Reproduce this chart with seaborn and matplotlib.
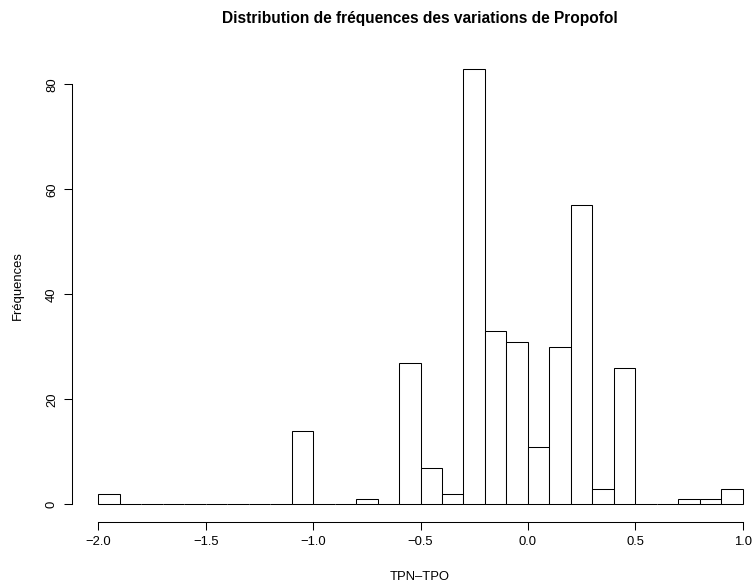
import numpy as np
import pandas as pd
import matplotlib
matplotlib.use("Agg")
import matplotlib.pyplot as plt
import seaborn as sns

# Data (bin width 0.1, from -2.0 to 1.0)
bin_left = [-2.0, -1.9, -1.8, -1.7, -1.6, -1.5, -1.4, -1.3, -1.2, -1.1,
            -1.0, -0.9, -0.8, -0.7, -0.6, -0.5, -0.4, -0.3, -0.2, -0.1,
            0.0, 0.1, 0.2, 0.3, 0.4, 0.5, 0.6, 0.7, 0.8, 0.9]
counts = [2, 0, 0, 0, 0, 0, 0, 0, 0, 14,
          0, 0, 1, 0, 27, 7, 2, 83, 33, 31,
          11, 30, 57, 3, 26, 0, 0, 1, 1, 3]
x_ticks = [-2.0, -1.5, -1.0, -0.5, 0.0, 0.5, 1.0]
y_ticks = [0, 20, 40, 60, 80]
title = "Distribution de fréquences des variations de Propofol"
xlabel = "TPN\u2013TPO"
ylabel = "Fréquences"

sns.set_style("white")
plt.rcParams['font.family'] = ['Liberation Sans', 'DejaVu Sans']
plt.rcParams['axes.unicode_minus'] = True
for k in ["text.color", "axes.labelcolor", "xtick.color", "ytick.color",
          "axes.edgecolor"]:
    plt.rcParams[k] = "black"

width = 0.1
df = pd.DataFrame({"x": np.array(bin_left) + width / 2, "n": counts})

W, H = 752, 583
ax_l, ax_b, ax_t = 72.3, 521.7, 51.1
fig = plt.figure(figsize=(W / 100, H / 100), dpi=100)
ax = fig.add_axes([ax_l / W, (H - ax_b) / H, (W - ax_l) / W, (ax_b - ax_t) / H])

sns.histplot(data=df, x="x", weights="n", binwidth=width,
             binrange=(bin_left[0], bin_left[-1] + width), ax=ax,
             color="white", edgecolor="black", linewidth=0.75, alpha=1)

ax.set_xlim(-2.0 - 26.0 / 214.8, 1.0 + (W - 742.7) / 214.8)
ax.set_ylim(-3.32, 86.32)

for s in ["top", "right"]:
    ax.spines[s].set_visible(False)
for s in ["bottom", "left"]:
    ax.spines[s].set_visible(True)
    ax.spines[s].set_linewidth(0.75)
    ax.spines[s].set_color("black")
ax.spines["bottom"].set_bounds(-2.0, 1.0)
ax.spines["left"].set_bounds(0, 80)

fs = 9.4
ax.set_xticks(x_ticks)
ax.set_xticklabels([f"{v:.1f}".replace("-", "\u2212") for v in x_ticks])
ax.set_yticks(y_ticks)
ax.set_yticklabels([str(v) for v in y_ticks], rotation=90, va="center")
ax.tick_params(axis="both", direction="out", length=5.8, width=0.75,
               color="black", labelsize=fs, pad=4.5, bottom=True, left=True)

ax.set_xlabel(xlabel, fontsize=fs)
ax.set_ylabel(ylabel, fontsize=fs)
pw = W - ax_l
ph = ax_b - ax_t
ax.xaxis.set_label_coords((420 - ax_l) / pw, -(576.5 - ax_b) / ph)
ax.xaxis.label.set_va("center")
ax.yaxis.set_label_coords((17.5 - ax_l) / pw, (ax_b - 286) / ph)
ax.yaxis.label.set_va("center")
ax.grid(False)

fig.text(420 / W, 1 - 18 / H, title, ha="center", va="center",
         fontsize=11.2, fontweight="bold")

fig.savefig("out.png", dpi=100)
